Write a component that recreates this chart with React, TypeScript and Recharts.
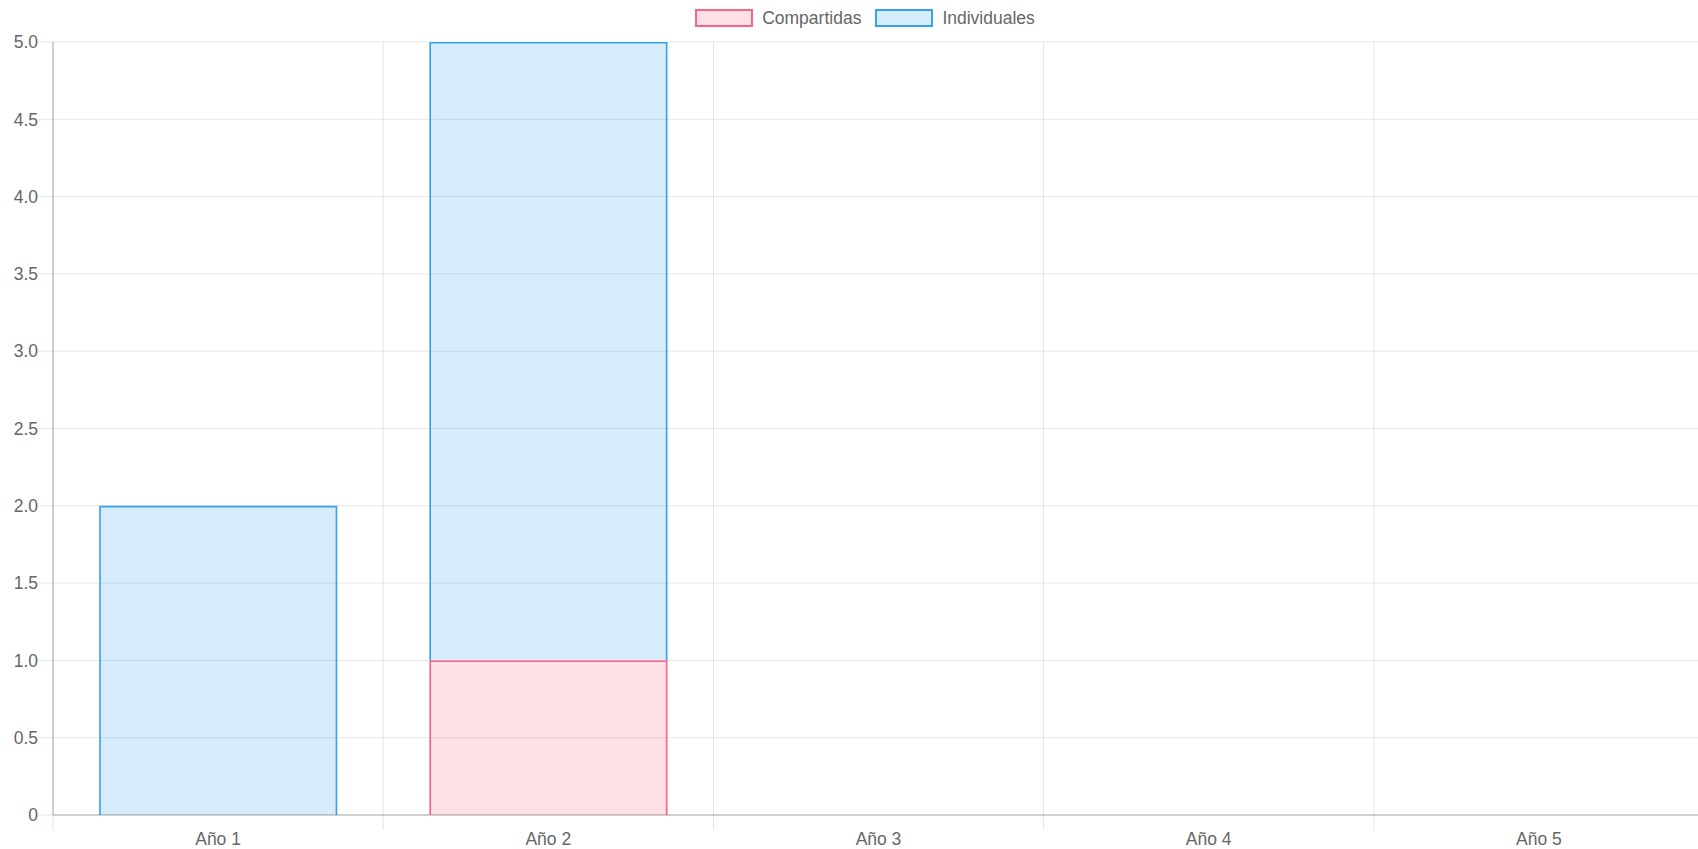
import React from 'react';
import { BarChart, Bar, XAxis, YAxis, CartesianGrid, Legend } from 'recharts';

const categories = ['Año 1', 'Año 2', 'Año 3', 'Año 4', 'Año 5'];
const compartidas = [0, 1, 0, 0, 0];
const individuales = [2, 4, 0, 0, 0];
const yTicks = [0, 0.5, 1, 1.5, 2, 2.5, 3, 3.5, 4, 4.5, 5];

const seriesInfo = [
  { key: 'compartidas', name: 'Compartidas', fill: 'rgba(255,99,132,0.2)', stroke: 'rgb(255,99,132)' },
  { key: 'individuales', name: 'Individuales', fill: 'rgba(54,162,235,0.2)', stroke: 'rgb(54,162,235)' },
];

const data = categories.map((name, i) => ({
  name,
  compartidas: compartidas[i],
  individuales: individuales[i],
}));

const FONT = '"Liberation Sans", Arial, Helvetica, sans-serif';
const FONT_SIZE = 17.5;
const TEXT = '#666';
const GRID = 'rgba(0,0,0,0.1)';
const AXIS = 'rgba(0,0,0,0.28)';
const TICK_LEN = 15;
const TICK_MARGIN = 3;

function BorderedBar(props: any) {
  const { x, y, width, height, fill, stroke } = props;
  if (!height || height <= 0 || !width) return null;
  const sw = 1.6;
  return (
    <g>
      <rect x={x} y={y} width={width} height={height} fill={fill} stroke="none" />
      <path
        d={`M${x + sw / 2},${y + height} V${y + sw / 2} H${x + width - sw / 2} V${y + height}`}
        fill="none"
        stroke={stroke}
        strokeWidth={sw}
      />
    </g>
  );
}

function XTick(props: any) {
  const { x, y, payload } = props;
  const off = payload && payload.offset ? payload.offset : 0;
  const top = y - TICK_LEN - TICK_MARGIN;
  return (
    <g>
      <line x1={x - off} x2={x - off} y1={top} y2={top + TICK_LEN} stroke={GRID} strokeWidth={1} />
      <text
        x={x}
        y={y}
        dy="0.71em"
        textAnchor="middle"
        fill={TEXT}
        fontSize={FONT_SIZE}
        fontFamily={FONT}
      >
        {payload.value}
      </text>
    </g>
  );
}

function renderLegend() {
  return (
    <div
      style={{
        height: 42,
        display: 'flex',
        justifyContent: 'center',
        alignItems: 'flex-start',
        paddingLeft: 26,
        boxSizing: 'border-box',
      }}
    >
      {seriesInfo.map((s, i) => (
        <div
          key={s.key}
          style={{
            display: 'flex',
            alignItems: 'center',
            marginTop: 9,
            marginLeft: i === 0 ? 0 : 14,
          }}
        >
          <div
            style={{
              width: 58,
              height: 18,
              boxSizing: 'border-box',
              border: `2px solid ${s.stroke}`,
              background: s.fill,
            }}
          />
          <span
            style={{
              marginLeft: 9,
              fontFamily: FONT,
              fontSize: FONT_SIZE,
              color: TEXT,
              lineHeight: '18px',
            }}
          >
            {s.name}
          </span>
        </div>
      ))}
    </div>
  );
}

export default function App() {
  return (
    <div style={{ position: 'absolute', left: 0, top: 0, width: 1698, height: 849, overflow: 'hidden', background: '#fff' }}>
      <BarChart
        width={1704}
        height={849}
        data={data}
        margin={{ top: 0, right: 0, bottom: 0, left: 0 }}
        barCategoryGap="14%"
        barGap={0}
      >
        <Legend verticalAlign="top" align="center" content={renderLegend} />
        <CartesianGrid
          stroke={GRID}
          verticalCoordinatesGenerator={({ offset }: any) =>
            categories.map((_, i) => offset.left + (i * offset.width) / categories.length)
          }
        />
        <XAxis
          dataKey="name"
          height={34}
          tickLine={false}
          axisLine={{ stroke: AXIS }}
          tickSize={TICK_LEN}
          tickMargin={TICK_MARGIN}
          tick={<XTick />}
          interval={0}
        />
        <YAxis
          width={53}
          domain={[0, 5]}
          ticks={yTicks}
          interval={0}
          tickSize={TICK_LEN}
          tickMargin={0}
          axisLine={{ stroke: AXIS }}
          tickLine={{ stroke: GRID }}
          tickFormatter={(v: number) => (v === 0 ? '0' : v.toFixed(1))}
          tick={{ fill: TEXT, fontSize: FONT_SIZE, fontFamily: FONT }}
        />
        {seriesInfo.map((s) => (
          <Bar
            key={s.key}
            dataKey={s.key}
            name={s.name}
            stackId="a"
            fill={s.fill}
            stroke={s.stroke}
            shape={<BorderedBar />}
            isAnimationActive={false}
          />
        ))}
      </BarChart>
    </div>
  );
}
